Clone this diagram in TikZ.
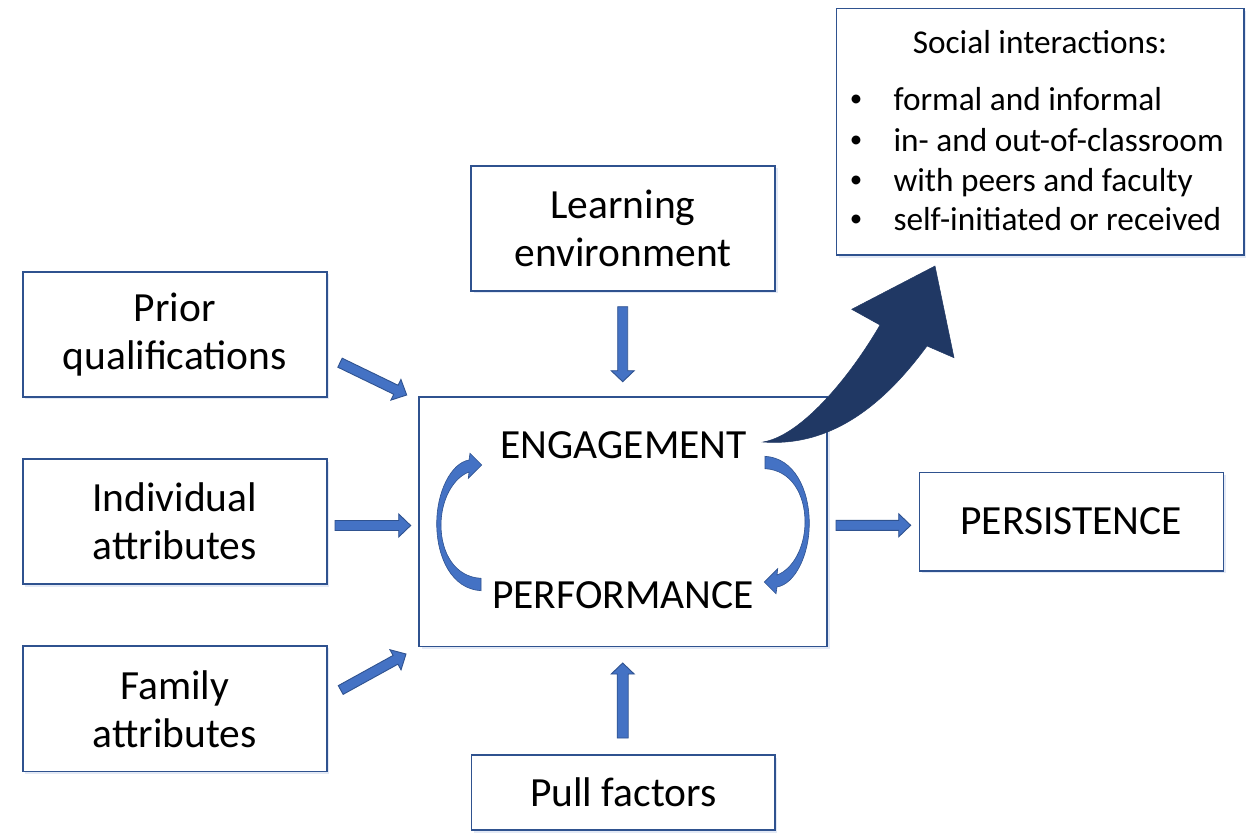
\documentclass[tikz,border=0pt]{standalone}
\usepackage{fontspec}
\setmainfont{Carlito}
\usetikzlibrary{calc,shadows}
\definecolor{boxc}{RGB}{47,82,143}
\definecolor{arrfill}{RGB}{68,114,196}
\definecolor{arrline}{RGB}{47,82,143}
\definecolor{navy}{RGB}{32,56,100}
\definecolor{shadowc}{RGB}{205,215,238}
\newcommand{\blockarr}[5]{%
  \coordinate (hb) at ($(#2)!#5!(#1)$);
  \filldraw[barrow] ($(#1)!#3!90:(#2)$) -- ($(hb)!#3!90:(#2)$) -- ($(hb)!#4!90:(#2)$) -- (#2)
    -- ($(hb)!#4!-90:(#2)$) -- ($(hb)!#3!-90:(#2)$) -- ($(#1)!#3!-90:(#2)$) -- cycle;
}
\begin{document}
\begin{tikzpicture}[x=1pt,y=-1pt,
  box/.style={draw=boxc, line width=1.6pt, fill=white, inner sep=0pt, align=center,
    font=\fontsize{41.5}{48}\selectfont,
    drop shadow={shadow xshift=2.5pt, shadow yshift=-2.5pt, fill=shadowc, opacity=0.55}},
  bigtxt/.style={font=\fontsize{41.5}{48}\selectfont, inner sep=0pt, anchor=base},
  soctxt/.style={font=\fontsize{33.3}{40}\selectfont, inner sep=0pt, anchor=base west},
  barrow/.style={fill=arrfill, draw=arrline, line width=0.9pt, line join=miter},
  carrow/.style={fill=arrfill, draw=arrline, line width=0.6pt},
  bigarrow/.style={fill=navy, draw=navy, line width=0.5pt}]
\useasboundingbox (0,0) rectangle (1260,840);
\fill[white] (0,0) rectangle (1260,840);

% boxes
\node[box, minimum width=304pt, minimum height=125pt] (prior) at (174.7,334.2) {Prior\\qualifications};
\node[box, minimum width=304pt, minimum height=125pt] (indiv) at (174.7,521.5) {Individual\\attributes};
\node[box, minimum width=304pt, minimum height=125.7pt] (family) at (174.7,708.8) {Family\\attributes};
\node[box, minimum width=304pt, minimum height=125pt] (learn) at (623,228.2) {Learning\\environment};
\node[box, minimum width=303.3pt, minimum height=75pt] (pull) at (623.3,792.5) {Pull factors};
\node[box, minimum width=304pt, minimum height=98.4pt] (pers) at (1071.3,521.5) {PERSISTENCE};
\node[box, minimum width=408pt, minimum height=249.8pt] (core) at (623,521.6) {};
\node[box, minimum width=407.3pt, minimum height=246.7pt] (soc) at (1040.3,131.7) {};

% core texts
\node[bigtxt] (eng) at (623.8,458.3) {ENGAGEMENT};
\node[bigtxt] (perf) at (623,608.3) {PERFORMANCE};

% social interactions texts
\node[font=\fontsize{33.3}{40}\selectfont, inner sep=0pt, anchor=base] (soct) at (1040,53.3) {Social interactions:};
\node[soctxt] (s1) at (893.3,111) {formal and informal};
\node[soctxt] (s2) at (893.3,151) {in- and out-of-classroom};
\node[soctxt] (s3) at (893.3,191) {with peers and faculty};
\node[soctxt] (s4) at (893.3,230) {self-initiated or received};
\foreach \yy/\nm in {111/b1,151/b2,191/b3,230/b4}
  \node[font=\fontsize{25}{30}\selectfont, inner sep=0pt, anchor=base] (\nm) at (856,\yy-4) {\textbullet};

% straight block arrows
\coordinate (pa) at (340,362.7); \coordinate (pb) at (406.7,395);
\coordinate (ia) at (335,525.5); \coordinate (ib) at (410.7,525.5);
\coordinate (fa) at (340.7,690); \coordinate (fb) at (406,654);
\coordinate (la) at (622.7,306.7); \coordinate (lb) at (622.7,381.7);
\coordinate (ua) at (622.7,738); \coordinate (ub) at (622.7,663);
\coordinate (ra) at (836,525.3); \coordinate (rb) at (910.7,525.3);
\blockarr{pa}{pb}{5pt}{11.5pt}{12pt}
\blockarr{ia}{ib}{5pt}{11.5pt}{12pt}
\blockarr{fa}{fb}{5pt}{11.5pt}{12pt}
\blockarr{la}{lb}{5pt}{11.5pt}{11pt}
\blockarr{ua}{ub}{5.5pt}{11.5pt}{11pt}
\blockarr{ra}{rb}{5pt}{11.5pt}{12pt}

% curved arrows inside core
\foreach \rot in {0,180}{
\filldraw[carrow, rotate around={\rot:(623,523.5)}]
  (481,590.7) .. controls (452,589) and (436.7,558) .. (436.7,523.3)
  .. controls (436.7,492) and (451,463) .. (469,460)
  -- (470,453.3) -- (481.7,465) -- (468.3,478.3) -- (469,472)
  .. controls (453,478) and (441,500) .. (441,525)
  .. controls (441,553) and (455,577) .. (481,578.3) -- cycle;
}

% big curved arrow to social interactions
\filldraw[bigarrow]
  (763,442) .. controls (800,436) and (848,380) .. (880,325)
  -- (851.7,309.3) -- (935,266) -- (954,357.7) -- (927,346)
  .. controls (893,392) and (840,448) .. (763,442) -- cycle;
\end{tikzpicture}
\end{document}
